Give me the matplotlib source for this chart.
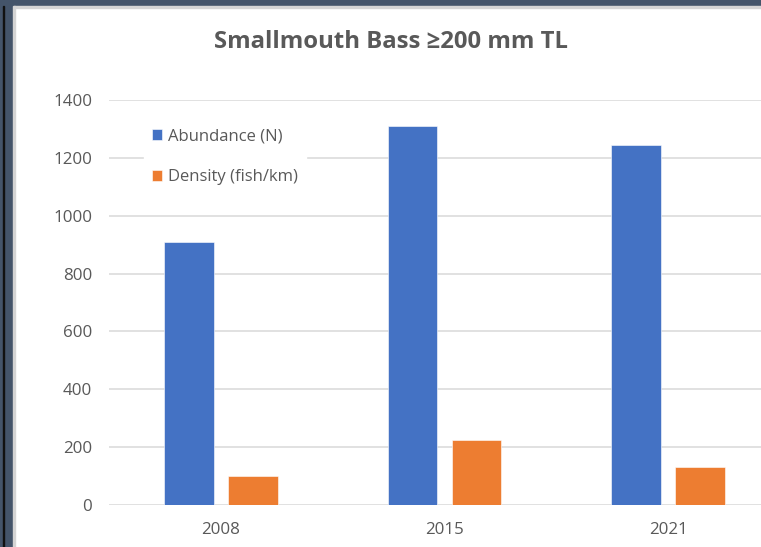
import matplotlib
matplotlib.use("Agg")
import matplotlib.pyplot as plt
import matplotlib.patches as mpatches
import numpy as np

plt.rcParams['font.family'] = ['Open Sans', 'DejaVu Sans']

years = ["2008", "2015", "2021"]
abundance = [908, 1310, 1243]
density = [99, 224, 132]
series_names = ["Abundance (N)", "Density (fish/km)"]
yticks = [0, 200, 400, 600, 800, 1000, 1200, 1400]
title = "Smallmouth Bass \u2265200 mm TL"

W, H = 761, 547
fig = plt.figure(figsize=(W / 100, H / 100), dpi=100)
fig.patch.set_facecolor("white")

# window frame (screenshot border)
dark = "#44546A"
fig.patches.append(mpatches.Rectangle((0, 1 - 6 / H), 1, 6 / H, transform=fig.transFigure,
                                      color=dark, zorder=0))
fig.patches.append(mpatches.Rectangle((0, 1 - 7.5 / H), 1, 1.5 / H, transform=fig.transFigure,
                                      color="#d4d4d4", zorder=0))
fig.patches.append(mpatches.Rectangle((0, 0), 13 / W, 1, transform=fig.transFigure,
                                      color=dark, zorder=0))
fig.patches.append(mpatches.Rectangle((3 / W, 0), 1 / W, 1 - 6 / H, transform=fig.transFigure,
                                      color="#111111", zorder=0))
fig.patches.append(mpatches.Rectangle((13 / W, 0), 1.5 / W, 1 - 6 / H, transform=fig.transFigure,
                                      color="#d4d4d4", zorder=0))

ax = fig.add_axes([109 / W, 42 / H, 671 / W, 405 / H])
ax.set_facecolor("none")
x = np.arange(len(years))
bw = 0.223
off = 0.143
ax.bar(x - off, abundance, bw, color="#4472C4", edgecolor="white", linewidth=0.4,
       label=series_names[0], zorder=3)
ax.bar(x + off, density, bw, color="#ED7D31", edgecolor="white", linewidth=0.4,
       label=series_names[1], zorder=3)

ax.set_xlim(-0.5, len(years) - 0.5)
ax.set_ylim(0, 1400)
ax.set_yticks(yticks)
ax.set_yticklabels([str(v) for v in yticks])
ax.set_xticks(x)
ax.set_xticklabels(years)
for s in ax.spines.values():
    s.set_visible(False)
ax.grid(axis="y", color="#d9d9d9", linewidth=1.1, zorder=0)
ax.set_axisbelow(True)
ax.tick_params(axis="both", length=0, labelsize=12.2, labelcolor="#595959")
ax.tick_params(axis="y", pad=12)
ax.tick_params(axis="x", pad=12)

leg = ax.legend(loc="upper left", bbox_to_anchor=(144 / W, 1 - 120 / H),
                bbox_transform=fig.transFigure, frameon=True, fancybox=False,
                facecolor="white", edgecolor="white", framealpha=1,
                fontsize=12, handlelength=0.6, handleheight=0.6,
                handletextpad=0.35, labelspacing=1.5, borderpad=0.5,
                borderaxespad=0)
for t in leg.get_texts():
    t.set_color("#595959")

fig.text(391.5 / W, 1 - 48.3 / H, title, ha="center", va="baseline",
         fontsize=17.2, fontweight="bold", color="#595959")

fig.savefig("out.png", dpi=100)
